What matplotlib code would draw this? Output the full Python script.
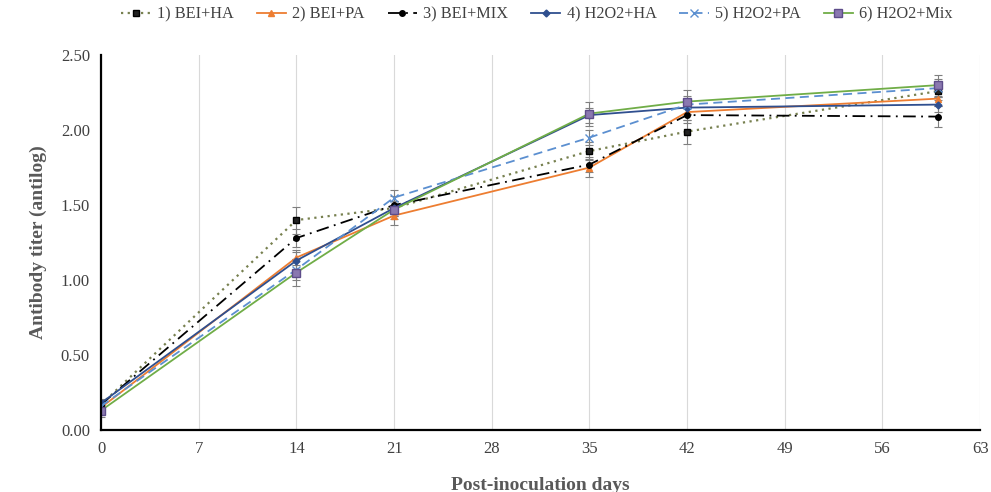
import matplotlib
matplotlib.use("Agg")
from matplotlib import pyplot as plt
from matplotlib.lines import Line2D
from matplotlib.ticker import MultipleLocator, FormatStrFormatter

plt.rcParams["font.family"] = ["Liberation Serif", "DejaVu Serif"]

days = [0, 14, 21, 35, 42, 60]

bei_ha = [0.17, 1.40, 1.48, 1.86, 1.99, 2.26]
bei_pa = [0.15, 1.15, 1.43, 1.75, 2.12, 2.21]
bei_mix = [0.17, 1.28, 1.50, 1.77, 2.10, 2.09]
h2o2_ha = [0.18, 1.13, 1.48, 2.10, 2.15, 2.17]
h2o2_pa = [0.16, 1.07, 1.55, 1.95, 2.17, 2.28]
h2o2_mix = [0.13, 1.05, 1.47, 2.11, 2.19, 2.30]

err_ha = [0.03, 0.09, 0.05, 0.06, 0.08, 0.06]
err_pa = [0.03, 0.05, 0.06, 0.06, 0.05, 0.05]
err_mix = [0.03, 0.06, 0.06, 0.05, 0.05, 0.07]
err_h2_ha = [0.03, 0.06, 0.05, 0.05, 0.05, 0.05]
err_h2_pa = [0.03, 0.07, 0.05, 0.05, 0.06, 0.06]
err_h2_mix = [0.04, 0.09, 0.06, 0.08, 0.08, 0.07]

series = [
    ("1) BEI+HA", bei_ha, err_ha, dict(color="#77804f", ls=(0, (1, 2)), lw=1.6,
                                        marker="s", ms=5, mfc="#222222", mec="black")),
    ("2) BEI+PA", bei_pa, err_pa, dict(color="#ed7d31", ls="-", lw=1.3,
                                        marker="^", ms=5, mfc="#ed7d31", mec="#ed7d31")),
    ("3) BEI+MIX", bei_mix, err_mix, dict(color="black", ls=(0, (7, 3, 1, 3)), lw=1.3,
                                           marker="o", ms=4, mfc="black", mec="black")),
    ("4) H2O2+HA", h2o2_ha, err_h2_ha, dict(color="#2f4f8f", ls="-", lw=1.3,
                                             marker="D", ms=3.5, mfc="#2f4f8f", mec="#2f4f8f")),
    ("5) H2O2+PA", h2o2_pa, err_h2_pa, dict(color="#5b8fd0", ls=(0, (5, 3)), lw=1.3,
                                             marker="x", ms=6, mfc="#5b8fd0", mec="#5b8fd0")),
    ("6) H2O2+Mix", h2o2_mix, err_h2_mix, dict(color="#70ad47", ls="-", lw=1.3,
                                                marker="s", ms=6, mfc="#8a78b0", mec="#5e4d8a")),
]

fig = plt.figure(figsize=(9.91, 4.92), dpi=100)
ax = fig.add_axes([0.102, 0.126, 0.887, 0.762])

handles = []
for lbl, vals, err, style in series:
    ax.errorbar(days, vals, yerr=err, ecolor="#7f7f7f", elinewidth=0.8,
                capsize=3, capthick=0.8, **style)
    handles.append(Line2D([], [], label=lbl, **style))

ax.set_xlim(0, 63)
ax.set_ylim(0, 2.5)
ax.xaxis.set_major_locator(MultipleLocator(7))
ax.yaxis.set_major_locator(MultipleLocator(0.5))
ax.yaxis.set_major_formatter(FormatStrFormatter("%.2f"))
ax.grid(axis="x", color="#d9d9d9", lw=0.8)
ax.set_axisbelow(True)
for s in ["top", "right"]:
    ax.spines[s].set_visible(False)
ax.spines["left"].set_linewidth(1.6)
ax.spines["bottom"].set_linewidth(1.6)
ax.tick_params(length=0, labelsize=12, colors="#404040", pad=8)

ax.set_xlabel("Post-inoculation days", fontsize=14, fontweight="bold", color="#595959", labelpad=14)
ax.set_ylabel("Antibody titer (antilog)", fontsize=14, fontweight="bold", color="#595959", labelpad=10)

fig.legend(handles=handles, loc="center", bbox_to_anchor=(0.542, 0.97), ncol=6, frameon=False,
           fontsize=11.7, handlelength=1.8, handletextpad=0.4, columnspacing=1.4,
           labelcolor="#404040")

fig.savefig("out.png", dpi=100)
